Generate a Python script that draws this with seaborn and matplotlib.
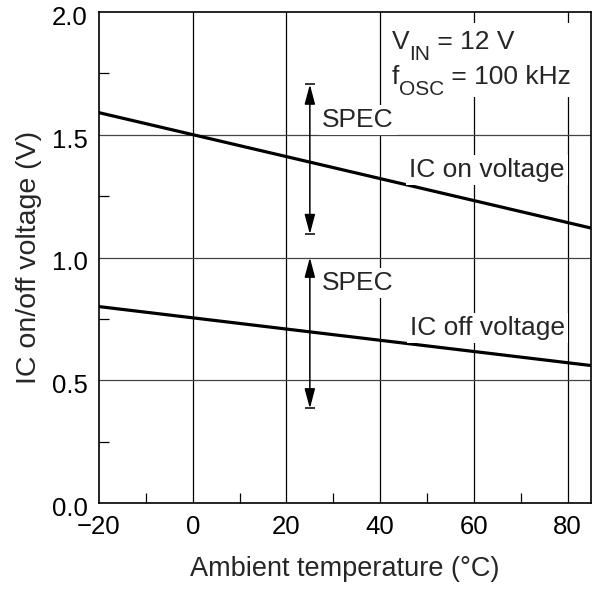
import numpy as np
import pandas as pd
import matplotlib
matplotlib.use("Agg")
import matplotlib.pyplot as plt
import matplotlib.transforms as mtransforms
from matplotlib.patches import Rectangle
import seaborn as sns

# values
temps = [-20, 85]
on_voltage = [1.59, 1.12]
off_voltage = [0.80, 0.56]
spec_x = 25
spec_on = [1.095, 1.705]
spec_off = [0.385, 1.0]
x_ticks = [-20, 0, 20, 40, 60, 80]
x_tick_labels = ["\u221220", "0", "20", "40", "60", "80"]
y_ticks = [0.0, 0.5, 1.0, 1.5, 2.0]

sns.set_theme(style="white")
plt.rcParams["font.family"] = ["Liberation Sans", "DejaVu Sans"]

FS = 19

df = pd.DataFrame({
    "temp": temps * 2,
    "voltage": on_voltage + off_voltage,
    "curve": ["on"] * 2 + ["off"] * 2,
})

fig = plt.figure(figsize=(6.02, 5.90), dpi=100)
ax = fig.add_axes([99 / 602, 1 - 503 / 590, 492 / 602, 491 / 590])

# grid
for xv in x_ticks[1:]:
    ax.axvline(xv, color="black", lw=0.9, zorder=1)
for yv in y_ticks[1:-1]:
    ax.axhline(yv, color="#444444", lw=0.9, zorder=1)

sns.lineplot(data=df, x="temp", y="voltage", units="curve", estimator=None,
             color="black", lw=2.3, ax=ax, zorder=3)

# spec arrows with end bars
for lo, hi, cap_lo, cap_hi in [(spec_on[0], spec_on[1], True, True),
                               (spec_off[0], spec_off[1], True, False)]:
    ax.annotate("", xy=(spec_x, hi), xytext=(spec_x, lo),
                arrowprops=dict(arrowstyle="<|-|>,head_length=0.6,head_width=0.16",
                                color="black", lw=1.1, mutation_scale=20,
                                shrinkA=0, shrinkB=0),
                zorder=4)
    caps = [v for v, c in [(lo, cap_lo), (hi, cap_hi)] if c]
    ax.plot([spec_x] * len(caps), caps, marker="_", ms=7, mew=1.1,
            color="black", ls="none", zorder=4)

box = dict(facecolor="white", edgecolor="none", pad=2)
ax.text(27.6, 1.532, "SPEC", ha="left", va="baseline", fontsize=FS, bbox=box, zorder=5)
ax.text(27.6, 0.868, "SPEC", ha="left", va="baseline", fontsize=FS, bbox=box, zorder=5)
ax.text(79.4, 1.328, "IC on voltage", ha="right", va="baseline", fontsize=FS, bbox=box, zorder=5)
ax.text(79.4, 0.684, "IC off voltage", ha="right", va="baseline", fontsize=FS, bbox=box, zorder=5)

# conditions block
ax.add_patch(Rectangle((41.0, 1.655), 43.5, 0.30, facecolor="white",
                       edgecolor="none", zorder=4))
for ypos, main, sub, rest in [(1.828, "V", "IN", " = 12 V"),
                              (1.686, "f", "OSC", " = 100 kHz")]:
    t1 = ax.text(42.5, ypos, main, ha="left", va="bottom", fontsize=FS, zorder=5)
    t2 = ax.annotate(sub, xy=(1, 0), xycoords=t1, xytext=(0, -7),
                     textcoords="offset points", ha="left", va="bottom",
                     fontsize=15, zorder=5)
    ax.annotate(rest, xy=(1, 0), xycoords=t2, xytext=(0, 7),
                textcoords="offset points", ha="left", va="bottom",
                fontsize=FS, zorder=5)

ax.set_xlim(-20, 85)
ax.set_ylim(0, 2.0)
ax.set_xticks(x_ticks)
ax.set_xticklabels(x_tick_labels)
ax.set_yticks(y_ticks)
ax.set_yticklabels([f"{v:.1f}" for v in y_ticks])
ax.set_xticks([-10, 10, 30, 50, 70], minor=True)
ax.set_yticks([0.25, 0.75, 1.25, 1.75], minor=True)
ax.tick_params(which="major", length=0, labelsize=18.5, colors="black")
ax.tick_params(axis="x", which="major", pad=9)
ax.tick_params(axis="y", which="major", pad=8)
ax.tick_params(which="minor", direction="in", length=7.2, width=0.9, color="black",
               bottom=True, left=True)

# y tick labels sit a little below their lines
for lab in ax.get_yticklabels():
    lab.set_transform(lab.get_transform()
                      + mtransforms.ScaledTranslation(0, -2.5 / 72, fig.dpi_scale_trans))

ax.set_xlabel("Ambient temperature (\u00b0C)", fontsize=19.5, labelpad=12)
ax.set_ylabel("IC on/off voltage (V)", fontsize=20.5, labelpad=7)
for s in ax.spines.values():
    s.set_color("black")
    s.set_linewidth(1.2)
    s.set_zorder(6)

fig.savefig("out.png", dpi=100)
